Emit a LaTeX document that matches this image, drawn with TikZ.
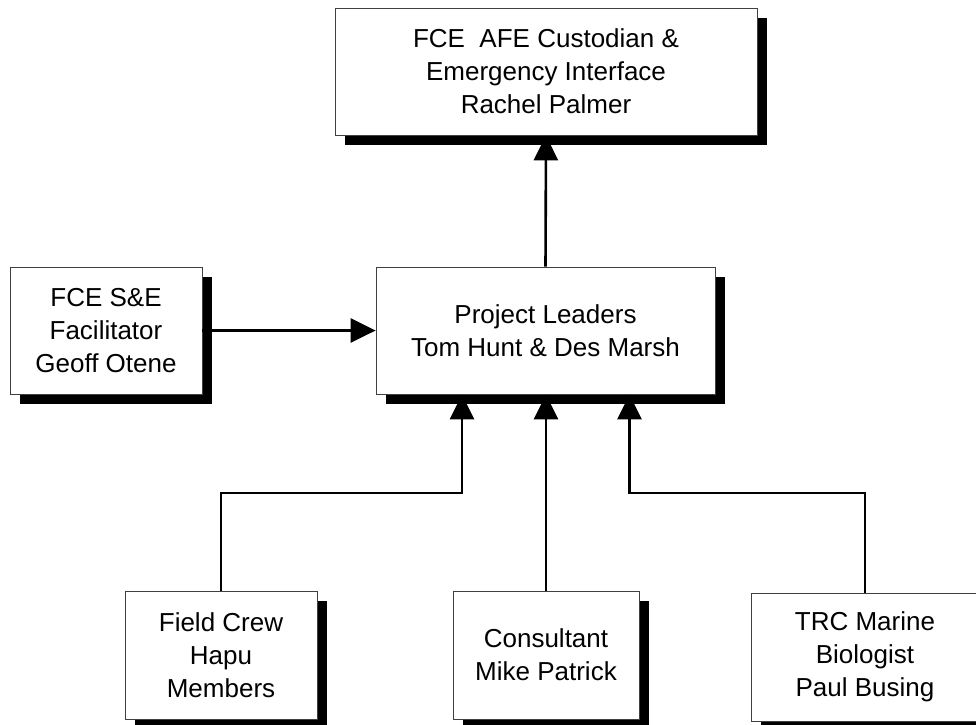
\documentclass[tikz,border=0pt]{standalone}
\usepackage{fontspec}
\setmainfont{Liberation Sans}
\usetikzlibrary{arrows.meta,shadows}
\begin{document}
\begin{tikzpicture}[x=1pt,y=-1pt,
  orgbox/.style={rectangle, draw=black!75, line width=0.8pt, fill=white, inner sep=0pt,
    align=center, font=\fontsize{26}{33}\selectfont,
    drop shadow={shadow xshift=10pt, shadow yshift=-10pt, opacity=1, fill=black}},
  conn/.style={line width=2.6pt, -{Triangle[length=25pt,width=24pt]}}]
\useasboundingbox (0,0) rectangle (976,724);
\clip (0,0) rectangle (976,724);

\node[orgbox, minimum width=422pt, minimum height=127pt] (top) at (546,71.5)
  {FCE~ AFE Custodian \&\\Emergency Interface\\Rachel Palmer};
\node[orgbox, minimum width=192pt, minimum height=127pt] (left) at (106,330.5)
  {FCE S\&E\\Facilitator\\Geoff Otene};
\node[orgbox, minimum width=339pt, minimum height=127pt] (mid) at (545.5,330.5)
  {Project Leaders\\Tom Hunt \& Des Marsh};
\node[orgbox, minimum width=192pt, minimum height=128pt] (field) at (221,655)
  {Field Crew\\Hapu\\Members};
\node[orgbox, minimum width=186pt, minimum height=128pt] (cons) at (546,655)
  {Consultant\\Mike Patrick};
\node[orgbox, minimum width=228pt, minimum height=128pt] (trc) at (865,657)
  {TRC Marine\\Biologist\\Paul Busing};

\coordinate (b1) at (221,493);
\coordinate (b3) at (865,493);

\draw[conn] (mid.north) -- (top.south);
\draw[conn] (left.east) -- (mid.west);
\draw[conn] (field.north) -- (b1) -| ([xshift=-83.5pt]mid.south);
\draw[conn] (cons.north) -- (cons.north |- mid.south);
\draw[conn] (trc.north) -- (b3) -| ([xshift=84pt]mid.south);
\end{tikzpicture}
\end{document}
